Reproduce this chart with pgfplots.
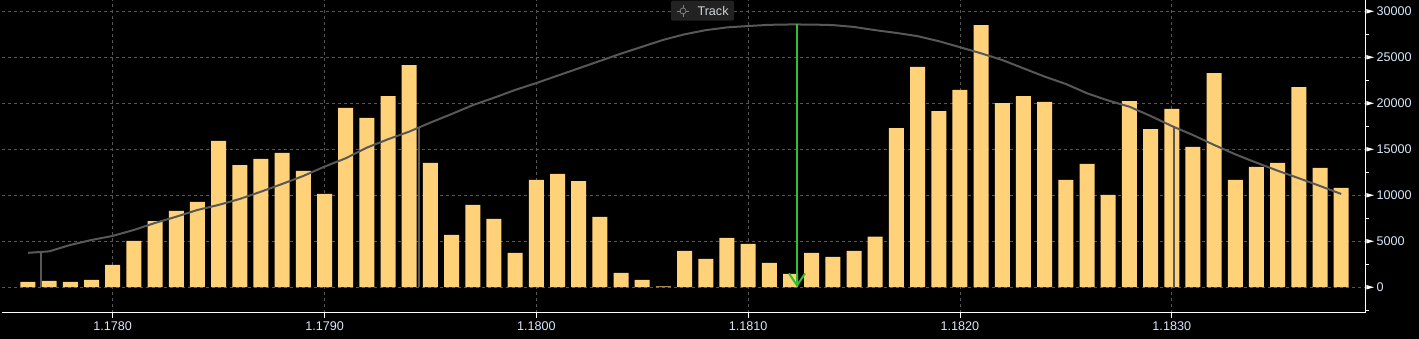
\documentclass[border=0pt]{standalone}
\usepackage{fontspec}
\setmainfont{Liberation Sans}
\usepackage{pgfplots}
\pgfplotsset{compat=1.18}
\usetikzlibrary{arrows.meta}
\definecolor{barc}{RGB}{255,210,122}
\definecolor{curvec}{RGB}{88,88,88}
\definecolor{gridc}{RGB}{85,85,85}
\definecolor{labc}{RGB}{215,232,250}
\definecolor{arrowg}{RGB}{50,190,50}
\definecolor{btn}{RGB}{34,34,34}
\definecolor{iconc}{RGB}{130,130,130}
\begin{document}
\begin{tikzpicture}[x=1pt,y=1pt]
\fill[black] (-2,-26) rectangle (1417,313);
\begin{axis}[
  at={(0,0)}, anchor=south west,
  scale only axis, width=1364pt, height=313pt,
  xmin=-5.227, xmax=59.17, ymin=-2800, ymax=31230,
  clip=false,
  axis line style={draw=none},
  xtick={0,10,20,30,40,50},
  xticklabels={1.1780,1.1790,1.1800,1.1810,1.1820,1.1830},
  ytick={0,5000,10000,15000,20000,25000,30000},
  yticklabels={0,5000,10000,15000,20000,25000,30000},
  minor ytick={-2500,2500,7500,12500,17500,22500,27500},
  xtick pos=left, ytick pos=right, tick align=outside,
  major tick length=5pt, minor tick length=3pt,
  every tick/.style={white, line width=0.8pt},
  major y tick style={draw=none},
  grid=major,
  major grid style={gridc, dash pattern=on 3pt off 3pt, line width=0.8pt},
  ticklabel style={font=\fontsize{12.6}{14}\selectfont, text=labc},
  yticklabel style={anchor=west, xshift=2pt},
]
% bars
\addplot[ybar, bar width=15pt, fill=barc, draw=none] table {
x y
-4 570
-3 680
-2 570
-1 790
0 2420
1 5030
2 7200
3 8290
4 9270
5 15900
6 13290
7 13950
8 14600
9 12640
10 10140
11 19490
12 18400
13 20790
14 24160
15 13510
16 5680
17 8950
18 7420
19 3730
20 11660
21 12320
22 11550
23 7640
24 1560
25 800
26 100
27 3960
28 3090
29 5380
30 4720
31 2650
32 1450
33 3740
34 3300
35 3960
36 5490
37 17310
38 23950
39 19160
40 21450
41 28510
42 20030
43 20790
44 20140
45 11660
46 13400
47 10030
48 20240
49 17200
50 19380
51 15250
52 23290
53 11660
54 13080
55 13510
56 21770
57 12970
58 10790
};
% profile curve
\addplot[curvec, line width=2pt, mark=none] table {
x y
-4 3740
-3 3900
-2 4600
-1 5140
0 5580
1 6230
2 6990
3 7670
4 8400
5 8950
6 9600
7 10390
8 11230
9 12100
10 13110
11 14020
12 15180
13 16090
14 16920
15 17900
16 18830
17 19800
18 20600
19 21450
20 22200
21 23000
22 23800
23 24600
24 25400
25 26150
26 26900
27 27500
28 27950
29 28250
30 28400
31 28530
32 28570
33 28560
34 28500
35 28300
36 27950
37 27650
38 27300
39 26750
40 26100
41 25430
42 24700
43 23800
44 22900
45 22100
46 21090
47 20300
48 19630
49 18620
50 17530
51 16550
52 15470
53 14450
54 13540
55 12670
56 11850
57 11010
58 10140
};
% vertical markers
\addplot[curvec, line width=2pt, mark=none] coordinates {(-3.385,0) (-3.385,3860)};
\addplot[curvec, line width=2pt, mark=none] coordinates {(14.46,0) (14.46,17330)};
\addplot[curvec, line width=2pt, mark=none] coordinates {(50.12,0) (50.12,17400)};
% green arrow
\addplot[arrowg, line width=2pt, mark=none, -{Straight Barb[length=12pt,width=16pt,line width=2pt]}] coordinates {(32.31,28570) (32.31,0)};
% axis lines
\draw[white, line width=1pt] (rel axis cs:0,0) -- (rel axis cs:1,0) -- (rel axis cs:1,1);
% tick triangles
\pgfplotsinvokeforeach{0,5000,10000,15000,20000,25000,30000}{
  \fill[white] (axis cs:59.17,#1) ++(0.5pt,2.2pt) -- ++(7.5pt,-2.2pt) -- ++(-7.5pt,-2.2pt) -- cycle;
}
% Track button
\fill[btn, rounded corners=2pt] (rel axis cs:0.4905,0.9339) rectangle (rel axis cs:0.5367,0.9978);
\coordinate (ic) at (rel axis cs:0.4993,0.9649);
\draw[iconc, line width=0.7pt] (ic) circle (3pt);
\draw[iconc, line width=0.7pt] (ic) ++(-6pt,0pt) -- ++(3.5pt,0pt);
\draw[iconc, line width=0.7pt] (ic) ++(6pt,0pt) -- ++(-3.5pt,0pt);
\draw[iconc, line width=0.7pt] (ic) ++(0pt,-6pt) -- ++(0pt,3.5pt);
\draw[iconc, line width=0.7pt] (ic) ++(0pt,6pt) -- ++(0pt,-3.5pt);
\node[text={rgb,255:red,205;green,210;blue,215}, font=\fontsize{12.6}{14}\selectfont, inner sep=0pt] at (rel axis cs:0.5213,0.9658) {Track};
\end{axis}
\pgfresetboundingbox
\useasboundingbox (-2,-26) rectangle (1417,313);
\end{tikzpicture}
\end{document}
